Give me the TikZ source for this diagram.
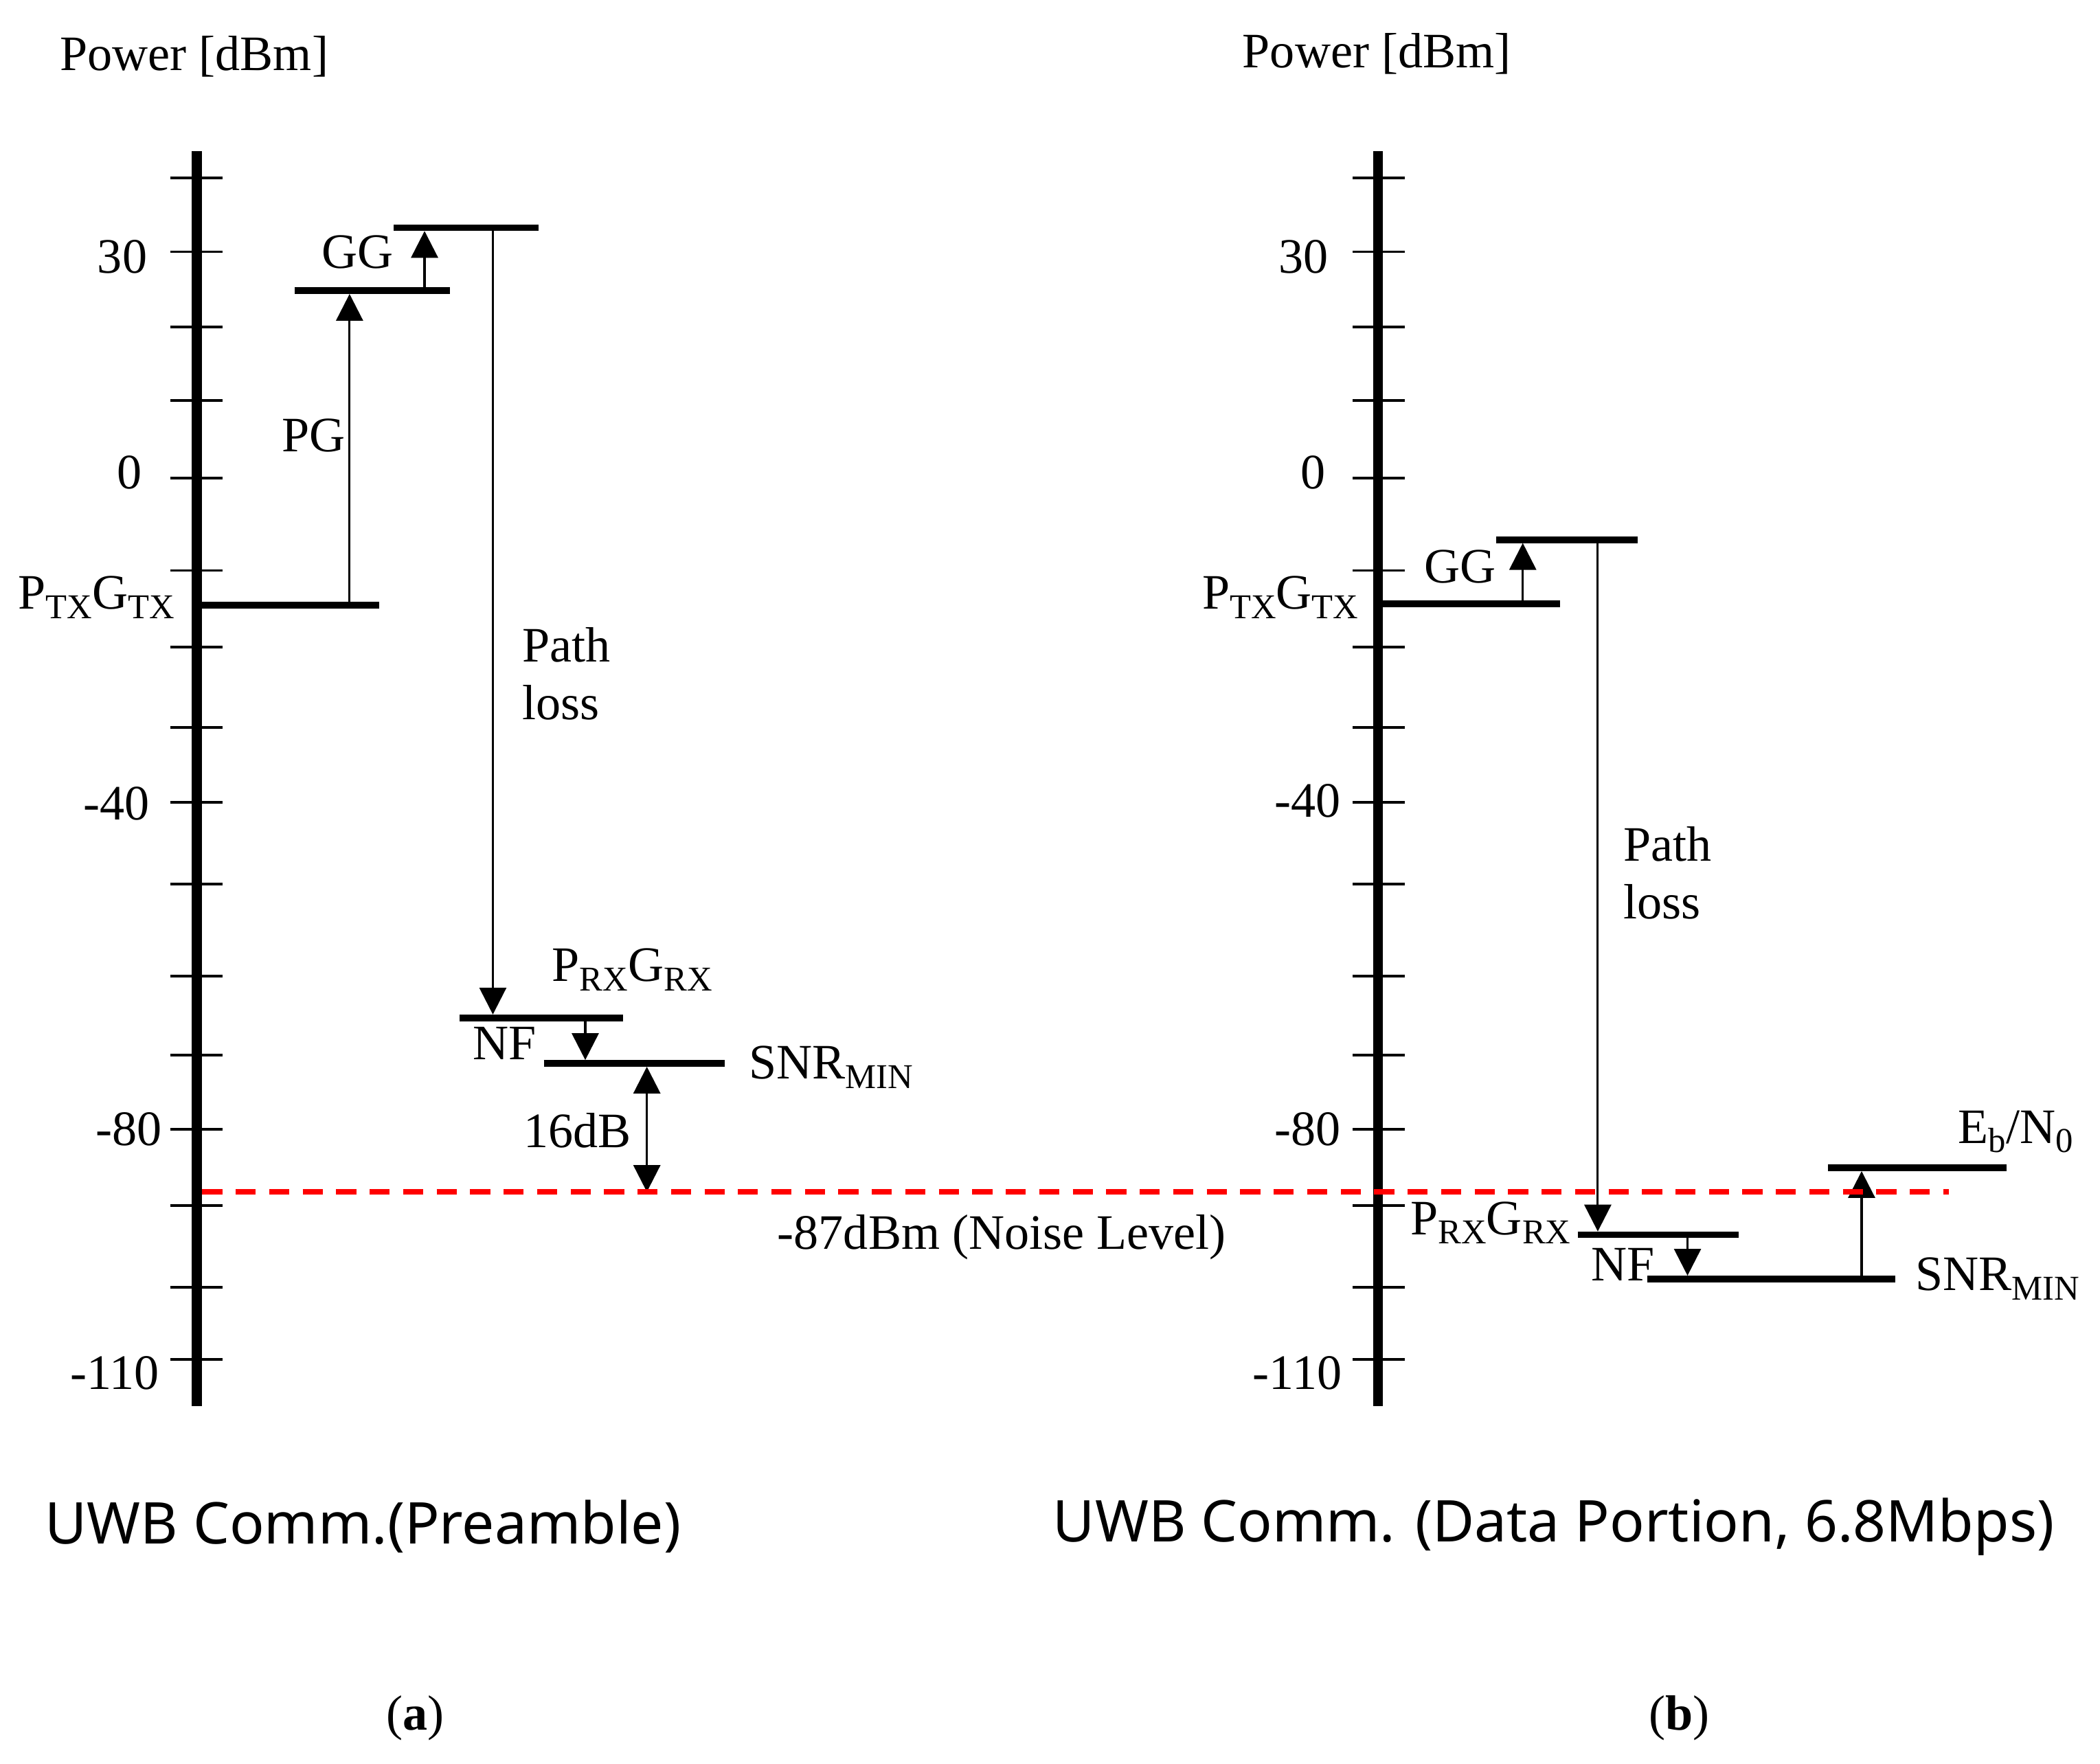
\documentclass[tikz,border=0pt]{standalone}
\usepackage{fontspec}
\setmainfont{Liberation Serif}
\newfontfamily\capfont{Noto Sans}
\usetikzlibrary{arrows.meta}
\newcommand{\sbs}[1]{\raisebox{-7pt}{\fontsize{26}{26}\selectfont #1}}
\begin{document}
\begin{tikzpicture}[x=1pt,y=-1pt,
  font=\fontsize{37}{43}\selectfont,
  axisline/.style={line width=7.5pt,line cap=butt},
  tickmark/.style={line width=2pt},
  level/.style={line width=5pt,line cap=butt},
  arr/.style={line width=1.6pt,-{Triangle[length=20pt,width=20pt]}},
  dblarr/.style={line width=1.6pt,{Triangle[length=20pt,width=20pt]}-{Triangle[length=20pt,width=20pt]}},
  noise/.style={red,line width=4pt,dash pattern=on 15pt off 10pt},
  lbl/.style={inner sep=0pt},
  captext/.style={inner sep=0pt,font=\capfont\fontsize{43}{50}\selectfont}]
\useasboundingbox (0,0) rectangle (1568,1317);
% axes
\draw[axisline] (147,113) -- (147,1050);
\draw[axisline] (1029,113) -- (1029,1050);
\foreach \y in {133,188,244,299,357,426,483,543,599,660,729,788,843,900,961,1015}{
  \draw[tickmark] (127,\y) -- (166,\y);
  \draw[tickmark] (1010,\y) -- (1049,\y);
}
% axis titles
\node[lbl] (powa) at (145,42) {Power [dBm]};
\node[lbl] (powb) at (1028,40) {Power [dBm]};
% tick labels (a)
\node[lbl,anchor=east] (a30) at (110,192) {30};
\node[lbl,anchor=east] (a0) at (106,353) {0};
\node[lbl,anchor=east] (a40) at (112,600) {-40};
\node[lbl,anchor=east] (a80) at (121,843) {-80};
\node[lbl,anchor=east] (a110) at (119,1025) {-110};
% tick labels (b)
\node[lbl,anchor=east] (b30) at (992,192) {30};
\node[lbl,anchor=east] (b0) at (990,353) {0};
\node[lbl,anchor=east] (b40) at (1001,598) {-40};
\node[lbl,anchor=east] (b80) at (1001,843) {-80};
\node[lbl,anchor=east] (b110) at (1002,1025) {-110};

% ---------- panel (a) levels ----------
\coordinate (aptxL) at (150,452);  \coordinate (aptxR) at (283,452);
\coordinate (apgL) at (220,217);   \coordinate (apgR) at (336,217);
\coordinate (aggL) at (294,170);   \coordinate (aggR) at (402,170);
\coordinate (aprxL) at (343,760);  \coordinate (aprxR) at (465,760);
\coordinate (asnrL) at (406,794);  \coordinate (asnrR) at (541,794);
\draw[level] (aptxL) -- (aptxR);
\draw[level] (apgL) -- (apgR);
\draw[level] (aggL) -- (aggR);
\draw[level] (aprxL) -- (aprxR);
\draw[level] (asnrL) -- (asnrR);
% arrows (a)
\coordinate (apg1) at (261,449.5); \coordinate (apg2) at (261,219.5);
\coordinate (agg1) at (317,214.5); \coordinate (agg2) at (317,172.5);
\coordinate (apl1) at (368,172.5); \coordinate (apl2) at (368,757.5);
\coordinate (anf1) at (437,762.5); \coordinate (anf2) at (437,791.5);
\coordinate (adb1) at (483,796.5); \coordinate (adb2) at (483,890);
\draw[arr] (apg1) -- (apg2);
\draw[arr] (agg1) -- (agg2);
\draw[arr] (apl1) -- (apl2);
\draw[arr] (anf1) -- (anf2);
\draw[dblarr] (adb1) -- (adb2);
% labels (a)
\node[lbl] (aptxt) at (72,446) {P\sbs{TX}G\sbs{TX}};
\node[lbl] (apgt) at (234,325) {PG};
\node[lbl] (aggt) at (267,188) {GG};
\node[lbl,anchor=west,align=left] (aplt) at (390,503) {Path\\loss};
\node[lbl] (aprxt) at (472,724) {P\sbs{RX}G\sbs{RX}};
\node[lbl] (anft) at (377,779) {NF};
\node[lbl,anchor=west] (asnrt) at (559,797) {SNR\sbs{MIN}};
\node[lbl] (a16t) at (431,844) {16dB};
\node[lbl] (noiset) at (748,924) {-87dBm (Noise Level)};

% ---------- panel (b) levels ----------
\coordinate (bptxL) at (1032,451); \coordinate (bptxR) at (1165,451);
\coordinate (bggL) at (1117,403);  \coordinate (bggR) at (1223,403);
\coordinate (bprxL) at (1178,922); \coordinate (bprxR) at (1298,922);
\coordinate (bsnrL) at (1230,955); \coordinate (bsnrR) at (1415,955);
\coordinate (bebL) at (1365,872);  \coordinate (bebR) at (1498,872);
\draw[level] (bptxL) -- (bptxR);
\draw[level] (bggL) -- (bggR);
\draw[level] (bprxL) -- (bprxR);
\draw[level] (bsnrL) -- (bsnrR);
\draw[level] (bebL) -- (bebR);
% arrows (b)
\coordinate (bgg1) at (1137,448.5); \coordinate (bgg2) at (1137,405.5);
\coordinate (bpl1) at (1193,405.5); \coordinate (bpl2) at (1193,919.5);
\coordinate (bnf1) at (1260,924.5); \coordinate (bnf2) at (1260,952.5);
\coordinate (beb1) at (1390,952.5); \coordinate (beb2) at (1390,874.5);
\draw[arr] (bgg1) -- (bgg2);
\draw[arr] (bpl1) -- (bpl2);
\draw[arr] (bnf1) -- (bnf2);
\draw[arr] (beb1) -- (beb2);
% labels (b)
\node[lbl] (bptxt) at (956,446) {P\sbs{TX}G\sbs{TX}};
\node[lbl] (bggt) at (1090,423) {GG};
\node[lbl,anchor=west,align=left] (bplt) at (1212,652) {Path\\loss};
\node[lbl] (bprxt) at (1113,913) {P\sbs{RX}G\sbs{RX}};
\node[lbl] (bnft) at (1212,944) {NF};
\node[lbl,anchor=west] (bsnrt) at (1430,955) {SNR\sbs{MIN}};
\node[lbl] (bebt) at (1505,845) {E\sbs{b}/N\sbs{0}};

% noise level line
\coordinate (nz1) at (151,890); \coordinate (nz2) at (1455,890);
\draw[noise] (nz1) -- (nz2);

% captions
\node[captext] (capa) at (271,1140) {UWB Comm.(Preamble)};
\node[captext] (capb) at (1160,1140) {UWB Comm. (Data Portion, 6.8Mbps)};
\node[lbl] (suba) at (310,1283) {(\textbf{a})};
\node[lbl] (subb) at (1254,1283) {(\textbf{b})};
\end{tikzpicture}
\end{document}
